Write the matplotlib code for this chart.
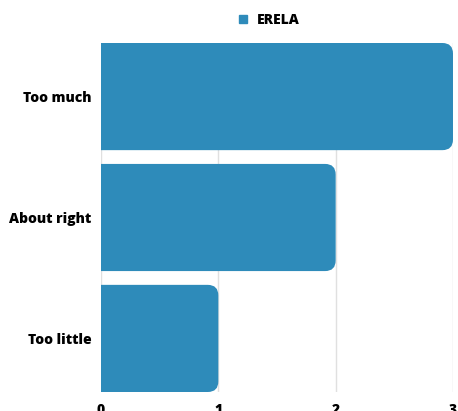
import matplotlib
matplotlib.use("Agg")
import matplotlib.pyplot as plt
from matplotlib.patches import FancyBboxPatch
from matplotlib.lines import Line2D

categories = ["Too much", "About right", "Too little"]
values = [3, 2, 1]
series_name = "ERELA"
xticks = [0, 1, 2, 3]

color = "#2e8bba"
plt.rcParams['font.family'] = ['Open Sans', 'DejaVu Sans']

fig = plt.figure(figsize=(4.58, 4.11), dpi=100)
ax = fig.add_axes([101/458, 19/411, 352/458, 349/411])

bar_h = 0.886
ypos = list(range(len(categories)))
bars = ax.barh(ypos, values, height=bar_h, color=color)
r = 0.09
for b in bars:
    x, y = b.get_x(), b.get_y()
    w, h = b.get_width(), b.get_height()
    b.remove()
    p = FancyBboxPatch((x - r, y), w + r, h,
                       boxstyle=f"round,pad=0,rounding_size={r}",
                       mutation_aspect=117.3/120.75,
                       facecolor=color, edgecolor="none", zorder=2)
    ax.add_patch(p)

ax.set_xlim(0, 3)
ax.set_ylim(len(categories) - 1 + bar_h/2, -bar_h/2)
ax.set_yticks(ypos)
ax.set_yticklabels(categories, fontsize=10, fontweight='heavy')
ax.set_xticks(xticks)
ax.set_xticklabels([str(t) for t in xticks], fontsize=10, fontweight='heavy')
ax.tick_params(length=0, pad=8)
ax.tick_params(axis='y', pad=7)
for s in ax.spines.values():
    s.set_visible(False)
ax.grid(axis='x', color='#e0e0e0', linewidth=1, zorder=0)
ax.set_axisbelow(True)

handle = Line2D([], [], marker='s', linestyle='none', color=color, markersize=6)
leg = fig.legend([handle], [series_name], loc='center', bbox_to_anchor=(268/458, 1 - 20/411),
                 frameon=False, prop={'weight': 'heavy', 'size': 10}, handletextpad=0.5,
                 handlelength=1.0)

fig.savefig("out.png", dpi=100)
